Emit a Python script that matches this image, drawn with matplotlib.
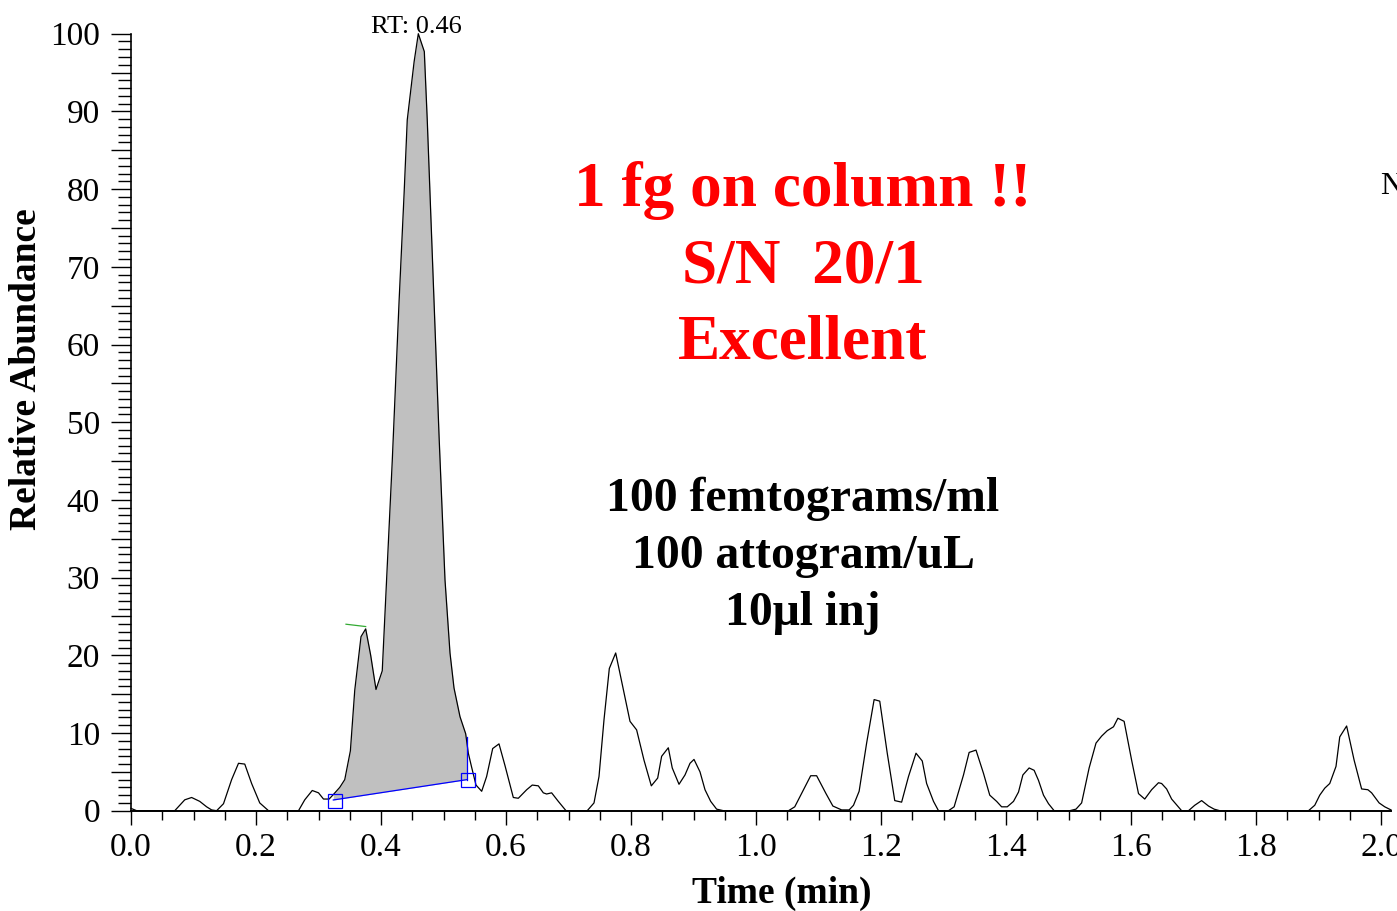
import numpy as np
import matplotlib

matplotlib.use("Agg")
import matplotlib.pyplot as plt
from matplotlib.ticker import MultipleLocator, FuncFormatter, FormatStrFormatter

plt.rcParams["font.family"] = ["Liberation Serif", "DejaVu Serif"]

# chromatogram trace
time_min = [
    0.000, 0.009, 0.070, 0.078, 0.086, 0.097, 0.110, 0.121, 0.129, 0.137,
    0.148, 0.161, 0.172, 0.182, 0.193, 0.206, 0.220, 0.268, 0.278, 0.290,
    0.300, 0.308, 0.317, 0.324, 0.334, 0.342, 0.351, 0.358, 0.368, 0.3755,
    0.3835, 0.392, 0.402, 0.409, 0.418, 0.429, 0.437, 0.442, 0.453, 0.4597,
    0.4693, 0.474, 0.4848, 0.493, 0.5024, 0.5104, 0.5168, 0.5264, 0.5355, 0.5397,
    0.545, 0.552, 0.5611, 0.569, 0.5787, 0.5888, 0.5984, 0.6117, 0.6197, 0.6331,
    0.642, 0.6517, 0.6597, 0.665, 0.673, 0.6837, 0.696, 0.730, 0.7408, 0.7488,
    0.7568, 0.7653, 0.7755, 0.7867, 0.7984, 0.809, 0.8208, 0.8325, 0.8427, 0.849,
    0.8597, 0.866, 0.8768, 0.8864, 0.8944, 0.9008, 0.9104, 0.9184, 0.9275, 0.937,
    0.948, 1.052, 1.062, 1.076, 1.0875, 1.097, 1.112, 1.123, 1.137, 1.149,
    1.156, 1.165, 1.177, 1.189, 1.198, 1.210, 1.222, 1.233, 1.244, 1.256,
    1.266, 1.273, 1.284, 1.292, 1.308, 1.317, 1.332, 1.341, 1.352, 1.364,
    1.374, 1.385, 1.393, 1.402, 1.412, 1.420, 1.427, 1.437, 1.445, 1.452,
    1.460, 1.468, 1.477, 1.502, 1.512, 1.521, 1.533, 1.544, 1.553, 1.562,
    1.572, 1.579, 1.589, 1.601, 1.612, 1.622, 1.633, 1.644, 1.649, 1.657,
    1.665, 1.681, 1.692, 1.702, 1.713, 1.724, 1.733, 1.742, 1.884, 1.894,
    1.902, 1.910, 1.918, 1.928, 1.934, 1.945, 1.957, 1.969, 1.979, 1.985,
    1.997, 2.006, 2.016,
]
abundance = [
    0.3, 0.0, 0.0, 0.7, 1.4, 1.7, 1.2, 0.5, 0.1, 0.0,
    0.9, 4.0, 6.1, 6.0, 3.5, 1.0, 0.0, 0.0, 1.4, 2.6,
    2.3, 1.5, 1.5, 2.1, 3.0, 4.0, 7.7, 15.5, 22.4, 23.4,
    20.0, 15.6, 18.0, 29.7, 45.0, 65.7, 79.5, 88.9, 96.4, 100.0,
    97.7, 88.9, 65.7, 48.0, 29.7, 20.3, 15.8, 12.1, 9.9, 7.4,
    5.6, 3.3, 2.5, 4.4, 8.0, 8.6, 5.8, 1.7, 1.6, 2.7,
    3.3, 3.2, 2.3, 2.15, 2.3, 1.2, 0.0, 0.0, 1.0, 4.4,
    11.7, 18.3, 20.3, 16.0, 11.5, 10.4, 6.5, 3.2, 4.2, 7.0,
    8.1, 5.5, 3.4, 4.6, 6.1, 6.6, 5.0, 2.7, 1.2, 0.2,
    0.0, 0.0, 0.5, 2.7, 4.5, 4.5, 2.2, 0.6, 0.1, 0.1,
    0.7, 2.5, 8.7, 14.3, 14.1, 7.4, 1.3, 1.1, 4.4, 7.4,
    6.4, 3.5, 1.2, 0.0, 0.0, 0.5, 4.6, 7.5, 7.8, 4.8,
    2.0, 1.2, 0.5, 0.5, 1.2, 2.4, 4.6, 5.5, 5.2, 3.9,
    2.0, 0.9, 0.0, 0.0, 0.2, 1.0, 5.5, 8.7, 9.6, 10.3,
    10.8, 11.9, 11.5, 6.5, 2.2, 1.5, 2.7, 3.6, 3.5, 2.8,
    1.5, 0.0, 0.0, 0.7, 1.3, 0.6, 0.2, 0.0, 0.0, 0.7,
    2.0, 2.9, 3.5, 5.7, 9.5, 10.9, 6.5, 2.8, 2.7, 2.3,
    1.0, 0.5, 0.1,
]

# integration baseline of the RT 0.46 peak (start, end)
base_time = [0.3237, 0.5376]
base_level = [1.38, 4.0]
end_level = 9.45
marker_time = [0.326, 0.539]
marker_level = [1.2, 3.95]
apex_mark_time = [0.344, 0.3755]
apex_mark_level = [24.0, 23.7]

rt_label = "RT: 0.46"
red_note = "1 fg on column !!\nS/N  20/1\nExcellent"
black_note = "100 femtograms/ml\n100 attogram/uL\n10\u03bcl inj"

W, H = 1397, 911
fig = plt.figure(figsize=(W / 100, H / 100), dpi=100)
ax = fig.add_axes([131 / W, 1 - 810.7 / H, (1391 - 131) / W, (810.7 - 33.7) / H])

t = np.asarray(time_min)
a = np.asarray(abundance)

# shaded peak area between trace and baseline
inside = (t > base_time[0]) & (t < base_time[1])
xs = np.concatenate([[base_time[0]], t[inside], [base_time[1]]])
top = np.interp(xs, t, a)
bottom = np.interp(xs, base_time, base_level)
ax.fill_between(xs, bottom, top, color="#C0C0C0", linewidth=0)

ax.plot(t, a, color="black", linewidth=0.9, clip_on=False, zorder=3)
ax.plot(base_time, base_level, color="#0000FF", linewidth=0.9, zorder=4)
ax.plot([base_time[1], base_time[1]], [base_level[1], end_level], color="#0000FF", linewidth=0.9, zorder=4)
ax.plot(marker_time, marker_level, linestyle="none", marker="s", markersize=10,
        markerfacecolor="none", markeredgecolor="#0000FF", markeredgewidth=0.9, zorder=5, clip_on=False)
ax.plot(apex_mark_time, apex_mark_level, color="#33AA33", linewidth=0.9, zorder=4)

ax.set_xlim(0, 2.016)
ax.set_ylim(0, 100)

ax.spines["top"].set_visible(False)
ax.spines["right"].set_visible(False)
ax.spines["left"].set_linewidth(1.2)
ax.spines["bottom"].set_linewidth(1.4)

ax.xaxis.set_major_locator(MultipleLocator(0.2))
ax.xaxis.set_minor_locator(MultipleLocator(0.05))
ax.xaxis.set_major_formatter(FormatStrFormatter("%.1f"))
ax.yaxis.set_major_locator(MultipleLocator(5))
ax.yaxis.set_minor_locator(MultipleLocator(1))
ax.yaxis.set_major_formatter(FuncFormatter(lambda v, p: f"{int(round(v))}" if round(v) % 10 == 0 else ""))

ax.tick_params(axis="x", which="major", length=10, width=1, pad=6, labelsize=24)
ax.tick_params(axis="x", which="minor", length=6.5, width=1)
ax.tick_params(axis="y", which="major", length=14.4, width=1, pad=8, labelsize=24)
ax.tick_params(axis="y", which="minor", length=9.4, width=1)

fig.text(27 / W, 1 - 369 / H, "Relative Abundance", rotation=90, ha="center", va="center",
         fontsize=27, fontweight="bold")
fig.text(782 / W, 1 - 893 / H, "Time (min)", ha="center", va="center", fontsize=27, fontweight="bold")

fig.text(416 / W, 1 - 33 / H, rt_label, ha="center", va="baseline", fontsize=19)
fig.text(803 / W, 1 - 267 / H, red_note, ha="center", va="center", multialignment="center",
         fontsize=45.5, fontweight="bold", color="#FF0000", linespacing=1.41)
fig.text(803 / W, 1 - 556 / H, black_note, ha="center", va="center", multialignment="center",
         fontsize=34.3, fontweight="bold", color="black", linespacing=1.39)
fig.text(1380 / W, 1 - 187 / H, "N", ha="left", va="center", fontsize=23)

fig.savefig("out.png", dpi=100)
